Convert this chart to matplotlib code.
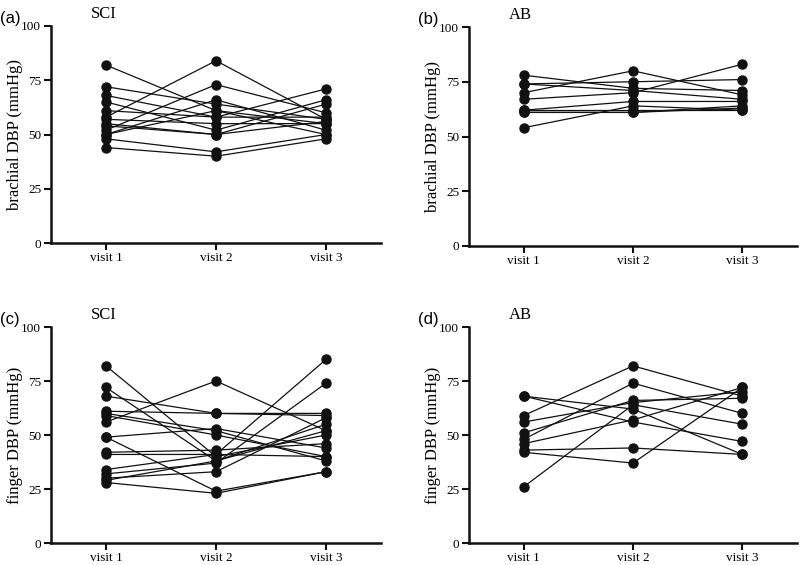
import numpy as np
import matplotlib
matplotlib.use("Agg")
import matplotlib.pyplot as plt

plt.rcParams['font.family'] = ['Liberation Serif', 'DejaVu Serif']

visits = ["visit 1", "visit 2", "visit 3"]
yticks = [0, 25, 50, 75, 100]

# each row = one subject, values at visit 1, 2, 3
sci_brachial = [
    [82, 61, 55],
    [72, 64, 57],
    [58, 84, 57],
    [52, 73, 60],
    [68, 58, 71],
    [65, 52, 66],
    [61, 58, 58],
    [57, 55, 55],
    [55, 50, 64],
    [50, 61, 50],
    [48, 42, 50],
    [44, 40, 48],
    [54, 50, 56],
    [50, 66, 52],
]
ab_brachial = [
    [78, 72, 71],
    [74, 75, 76],
    [74, 71, 67],
    [70, 80, 69],
    [67, 70, 83],
    [62, 66, 66],
    [62, 62, 62],
    [61, 61, 64],
    [54, 64, 62],
    [61, 61, 63],
]
sci_finger = [
    [82, 40, 50],
    [72, 38, 52],
    [68, 60, 60],
    [61, 60, 59],
    [59, 50, 40],
    [56, 75, 52],
    [49, 24, 33],
    [49, 53, 44],
    [42, 43, 46],
    [41, 41, 40],
    [34, 41, 85],
    [32, 37, 74],
    [30, 33, 58],
    [29, 38, 55],
    [28, 23, 33],
    [60, 52, 38],
]
ab_finger = [
    [68, 56, 47],
    [68, 62, 41],
    [59, 82, 68],
    [56, 65, 70],
    [51, 66, 67],
    [48, 74, 60],
    [46, 57, 72],
    [43, 44, 41],
    [42, 37, 72],
    [26, 64, 55],
]

W, H = 800, 565
fig = plt.figure(figsize=(8, 5.65), dpi=100)

def add_ax(x0, x1, ytop, ybot):
    return fig.add_axes([x0 / W, 1 - ybot / H, (x1 - x0) / W, (ybot - ytop) / H])

panels = [
    (add_ax(51, 381, 26, 243), sci_brachial, "SCI", "(a)", "brachial DBP (mmHg)"),
    (add_ax(469, 797, 27, 246), ab_brachial, "AB", "(b)", "brachial DBP (mmHg)"),
    (add_ax(51, 381, 327, 543), sci_finger, "SCI", "(c)", "finger DBP (mmHg)"),
    (add_ax(469, 797, 327, 543), ab_finger, "AB", "(d)", "finger DBP (mmHg)"),
]

x = np.arange(1, 4)
for ax, data, title, tag, ylab in panels:
    for row in data:
        ax.plot(x, row, color='#111111', lw=0.9, marker='o', ms=6.5,
                mfc='#111111', mec='#111111', clip_on=False)
    ax.set_xlim(0.5, 3.5)
    ax.set_ylim(0, 100)
    ax.set_yticks(yticks)
    ax.set_xticks(x)
    ax.set_xticklabels(visits)
    ax.tick_params(labelsize=9.5, width=1.5, length=5, color='#111111')
    ax.tick_params(axis='x', pad=1.5)
    ax.tick_params(axis='y', pad=2)
    for s in ['top', 'right']:
        ax.spines[s].set_visible(False)
    for s in ['left', 'bottom']:
        ax.spines[s].set_linewidth(1.8)
        ax.spines[s].set_color('#111111')
    ax.set_ylabel(ylab, fontsize=12)
    ax.yaxis.set_label_coords(-0.085, 0.5)
    ax.text(0.12, 1.02, title, transform=ax.transAxes, fontsize=12,
            ha='left', va='bottom')
    ax.text(-0.155, 1.0, tag, transform=ax.transAxes, fontsize=12,
            ha='left', va='bottom', family=['Liberation Sans', 'DejaVu Sans'])

fig.savefig("out.png", dpi=100, facecolor='white')
